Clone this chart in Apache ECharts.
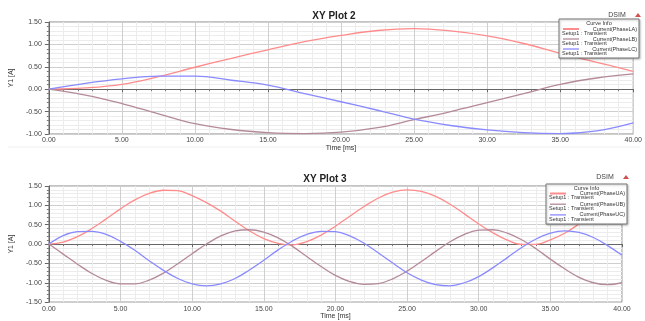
<!DOCTYPE html>
<html>
<head>
<meta charset="utf-8">
<script src="https://cdn.jsdelivr.net/npm/echarts@6/dist/echarts.min.js"></script>
<style>html,body{margin:0;padding:0;background:#fff;}#c{width:645px;height:321px;}</style>
</head>
<body>
<div id="c"></div>
<script>
// ---------- data ----------
const titles = ['XY Plot 2', 'XY Plot 3'];
const xName = 'Time [ms]';
const yName = 'Y1 [A]';
const seriesNamesTop = ['Current(PhaseLA)', 'Current(PhaseLB)', 'Current(PhaseLC)'];
const seriesNamesBottom = ['Current(PhaseUA)', 'Current(PhaseUB)', 'Current(PhaseUC)'];
const setupLabel = 'Setup1 : Transient';

const timeTop = [0, 2.5, 5, 7.5, 10, 12.5, 15, 17.5, 20, 22.5, 25, 27.5, 30, 32.5, 35, 37.5, 40];
const topA = [0.00, 0.03, 0.11, 0.28, 0.49, 0.69, 0.88, 1.06, 1.20, 1.31, 1.35, 1.30, 1.19, 1.02, 0.80, 0.60, 0.40];
const topB = [0.00, -0.13, -0.32, -0.55, -0.77, -0.90, -0.97, -0.99, -0.96, -0.86, -0.68, -0.50, -0.30, -0.10, 0.11, 0.25, 0.34];
const topC = [0.00, 0.13, 0.23, 0.29, 0.29, 0.20, 0.09, -0.10, -0.28, -0.47, -0.67, -0.81, -0.91, -0.97, -0.99, -0.93, -0.75];

const timeBottom = [0,1,2,3,4,5,6,7,8,9,10,11,12,13,14,15,16,17,18,19,20,21,22,23,24,25,26,27,28,29,30,31,32,33,34,35,36,37,38,39,40];
const botA = [0.00,0.05,0.19,0.40,0.65,0.91,1.14,1.31,1.39,1.38,1.25,1.07,0.85,0.59,0.34,0.14,0.02,-0.02,0.06,0.23,0.46,0.72,0.97,1.19,1.34,1.40,1.36,1.23,1.03,0.78,0.52,0.29,0.10,-0.01,-0.01,0.11,0.28,0.52,0.78,1.03,1.23];
const botB = [0.00,-0.26,-0.52,-0.76,-0.94,-1.03,-1.03,-0.93,-0.75,-0.51,-0.25,0.00,0.21,0.34,0.37,0.31,0.16,-0.06,-0.32,-0.58,-0.81,-0.97,-1.04,-1.02,-0.90,-0.70,-0.45,-0.19,0.06,0.25,0.36,0.37,0.28,0.11,-0.12,-0.39,-0.64,-0.86,-1.00,-1.05,-1.00];
const botC = [0.00,0.22,0.32,0.33,0.25,0.07,-0.16,-0.43,-0.68,-0.89,-1.03,-1.08,-1.03,-0.89,-0.67,-0.42,-0.15,0.08,0.25,0.33,0.32,0.21,0.02,-0.23,-0.49,-0.74,-0.93,-1.05,-1.08,-1.00,-0.84,-0.61,-0.35,-0.09,0.13,0.28,0.34,0.30,0.17,-0.04,-0.29];

const colors = ['#ff8c8c', '#b48a9a', '#8a8aff'];

// ---------- helpers ----------
function pairs(xs, ys) { return xs.map((x, i) => [x, ys[i]]); }
const fontFam = 'Liberation Sans, Arial, sans-serif';

function xAxisCfg(gi) {
  return {
    type: 'value', gridIndex: gi, min: 0, max: 40, interval: 5,
    name: xName, nameLocation: 'middle', nameGap: 10,
    nameTextStyle: { fontSize: 7, color: '#333', fontFamily: fontFam },
    axisLine: { show: true, lineStyle: { color: '#666', width: 1 } },
    axisTick: { show: true, length: 3, lineStyle: { color: '#666' } },
    minorTick: { show: true, splitNumber: 5, length: 2, lineStyle: { color: '#777' } },
    axisLabel: { fontSize: 7, color: '#444', margin: 3, fontFamily: fontFam, formatter: v => v.toFixed(2) },
    splitLine: { show: true, lineStyle: { color: '#cfcfcf', width: 1 } },
    minorSplitLine: { show: true, lineStyle: { color: '#ececec', width: 1 } }
  };
}
function yAxisCfg(gi, min, max, gap) {
  return {
    type: 'value', gridIndex: gi, min: min, max: max, interval: 0.5,
    name: yName, nameLocation: 'middle', nameGap: gap, nameRotate: 90,
    nameTextStyle: { fontSize: 7, color: '#333', fontFamily: fontFam },
    axisLine: { show: true, lineStyle: { color: '#666', width: 1 } },
    axisTick: { show: true, length: 4, lineStyle: { color: '#666' } },
    minorTick: { show: true, splitNumber: 5, length: 2, lineStyle: { color: '#777' } },
    axisLabel: { fontSize: 7, color: '#444', margin: 7, fontFamily: fontFam, formatter: v => v.toFixed(2) },
    splitLine: { show: true, lineStyle: { color: '#cfcfcf', width: 1 } },
    minorSplitLine: { show: true, lineStyle: { color: '#ececec', width: 1 } }
  };
}
function lineSeries(name, xi, xs, ys, color) {
  return {
    type: 'line', name: name, xAxisIndex: xi, yAxisIndex: xi,
    data: pairs(xs, ys), smooth: 0.4, showSymbol: false, symbol: 'none',
    lineStyle: { color: color, width: 1.3 }, itemStyle: { color: color }, z: 3
  };
}
function legendBox(x, y, w, h, names, rowY0, rowStep) {
  const els = [];
  els.push({ type: 'rect', shape: { x: x, y: y, width: w, height: h },
    style: { fill: '#fff', stroke: '#777', lineWidth: 1, shadowBlur: 2, shadowColor: 'rgba(0,0,0,0.25)', shadowOffsetX: 1, shadowOffsetY: 1 }, z: 100 });
  els.push({ type: 'text', x: x + w / 2, y: y + 4.5, style: { text: 'Curve Info', fontSize: 5.5, fill: '#333', align: 'center', verticalAlign: 'middle', fontFamily: fontFam }, z: 101 });
  names.forEach((n, i) => {
    const ry = rowY0 + i * rowStep;
    els.push({ type: 'line', shape: { x1: x + 4, y1: ry, x2: x + 20, y2: ry }, style: { stroke: colors[i], lineWidth: i === 0 ? 2 : 1.3 }, z: 101 });
    els.push({ type: 'text', x: x + w - 2, y: ry, style: { text: n, fontSize: 5.5, fill: '#333', align: 'right', verticalAlign: 'middle', fontFamily: fontFam }, z: 101 });
    els.push({ type: 'text', x: x + 3, y: ry + 4.2, style: { text: setupLabel, fontSize: 5.5, fill: '#333', align: 'left', verticalAlign: 'middle', fontFamily: fontFam }, z: 101 });
  });
  return els;
}
function dsim(x, y) {
  return [
    { type: 'text', x: x, y: y, style: { text: 'DSIM', fontSize: 7, fill: '#444', align: 'center', verticalAlign: 'middle', fontFamily: fontFam }, z: 101 },
    { type: 'polygon', shape: { points: [[x + 18, y + 2], [x + 24, y + 2], [x + 21, y - 2]] }, style: { fill: '#d05050' }, z: 101 }
  ];
}

const chart = echarts.init(document.getElementById('c'), null, { renderer: 'canvas' });
chart.setOption({
  animation: false,
  backgroundColor: '#ffffff',
  title: [
    { text: titles[0], left: 329, top: 6, textAlign: 'center', textStyle: { fontSize: 10, fontWeight: 'bold', color: '#222', fontFamily: fontFam } },
    { text: titles[1], left: 320, top: 169, textAlign: 'center', textStyle: { fontSize: 10, fontWeight: 'bold', color: '#222', fontFamily: fontFam } }
  ],
  grid: [
    { left: 47, top: 22, width: 590, height: 112, show: true, borderColor: '#888', borderWidth: 1, backgroundColor: '#fff' },
    { left: 45, top: 186, width: 577, height: 123, show: true, borderColor: '#888', borderWidth: 1, backgroundColor: '#fff' }
  ],
  xAxis: [xAxisCfg(0), xAxisCfg(1)],
  yAxis: [yAxisCfg(0, -1, 1.5, 14), yAxisCfg(1, -1.5, 1.5, 14)],
  series: [
    lineSeries(seriesNamesTop[0], 0, timeTop, topA, colors[0]),
    lineSeries(seriesNamesTop[1], 0, timeTop, topB, colors[1]),
    lineSeries(seriesNamesTop[2], 0, timeTop, topC, colors[2]),
    lineSeries(seriesNamesBottom[0], 1, timeBottom, botA, colors[0]),
    lineSeries(seriesNamesBottom[1], 1, timeBottom, botB, colors[1]),
    lineSeries(seriesNamesBottom[2], 1, timeBottom, botC, colors[2])
  ],
  graphic: [].concat(
    [{ type: 'line', shape: { x1: 8, y1: 147, x2: 640, y2: 147 }, style: { stroke: '#eeeeee', lineWidth: 1 }, z: 0 }],
    dsim(617, 15), dsim(605, 177),
    legendBox(559, 19, 80, 39, seriesNamesTop, 29, 10),
    legendBox(546, 184, 81, 40, seriesNamesBottom, 193.5, 10.7)
  )
});
</script>
</body>
</html>
